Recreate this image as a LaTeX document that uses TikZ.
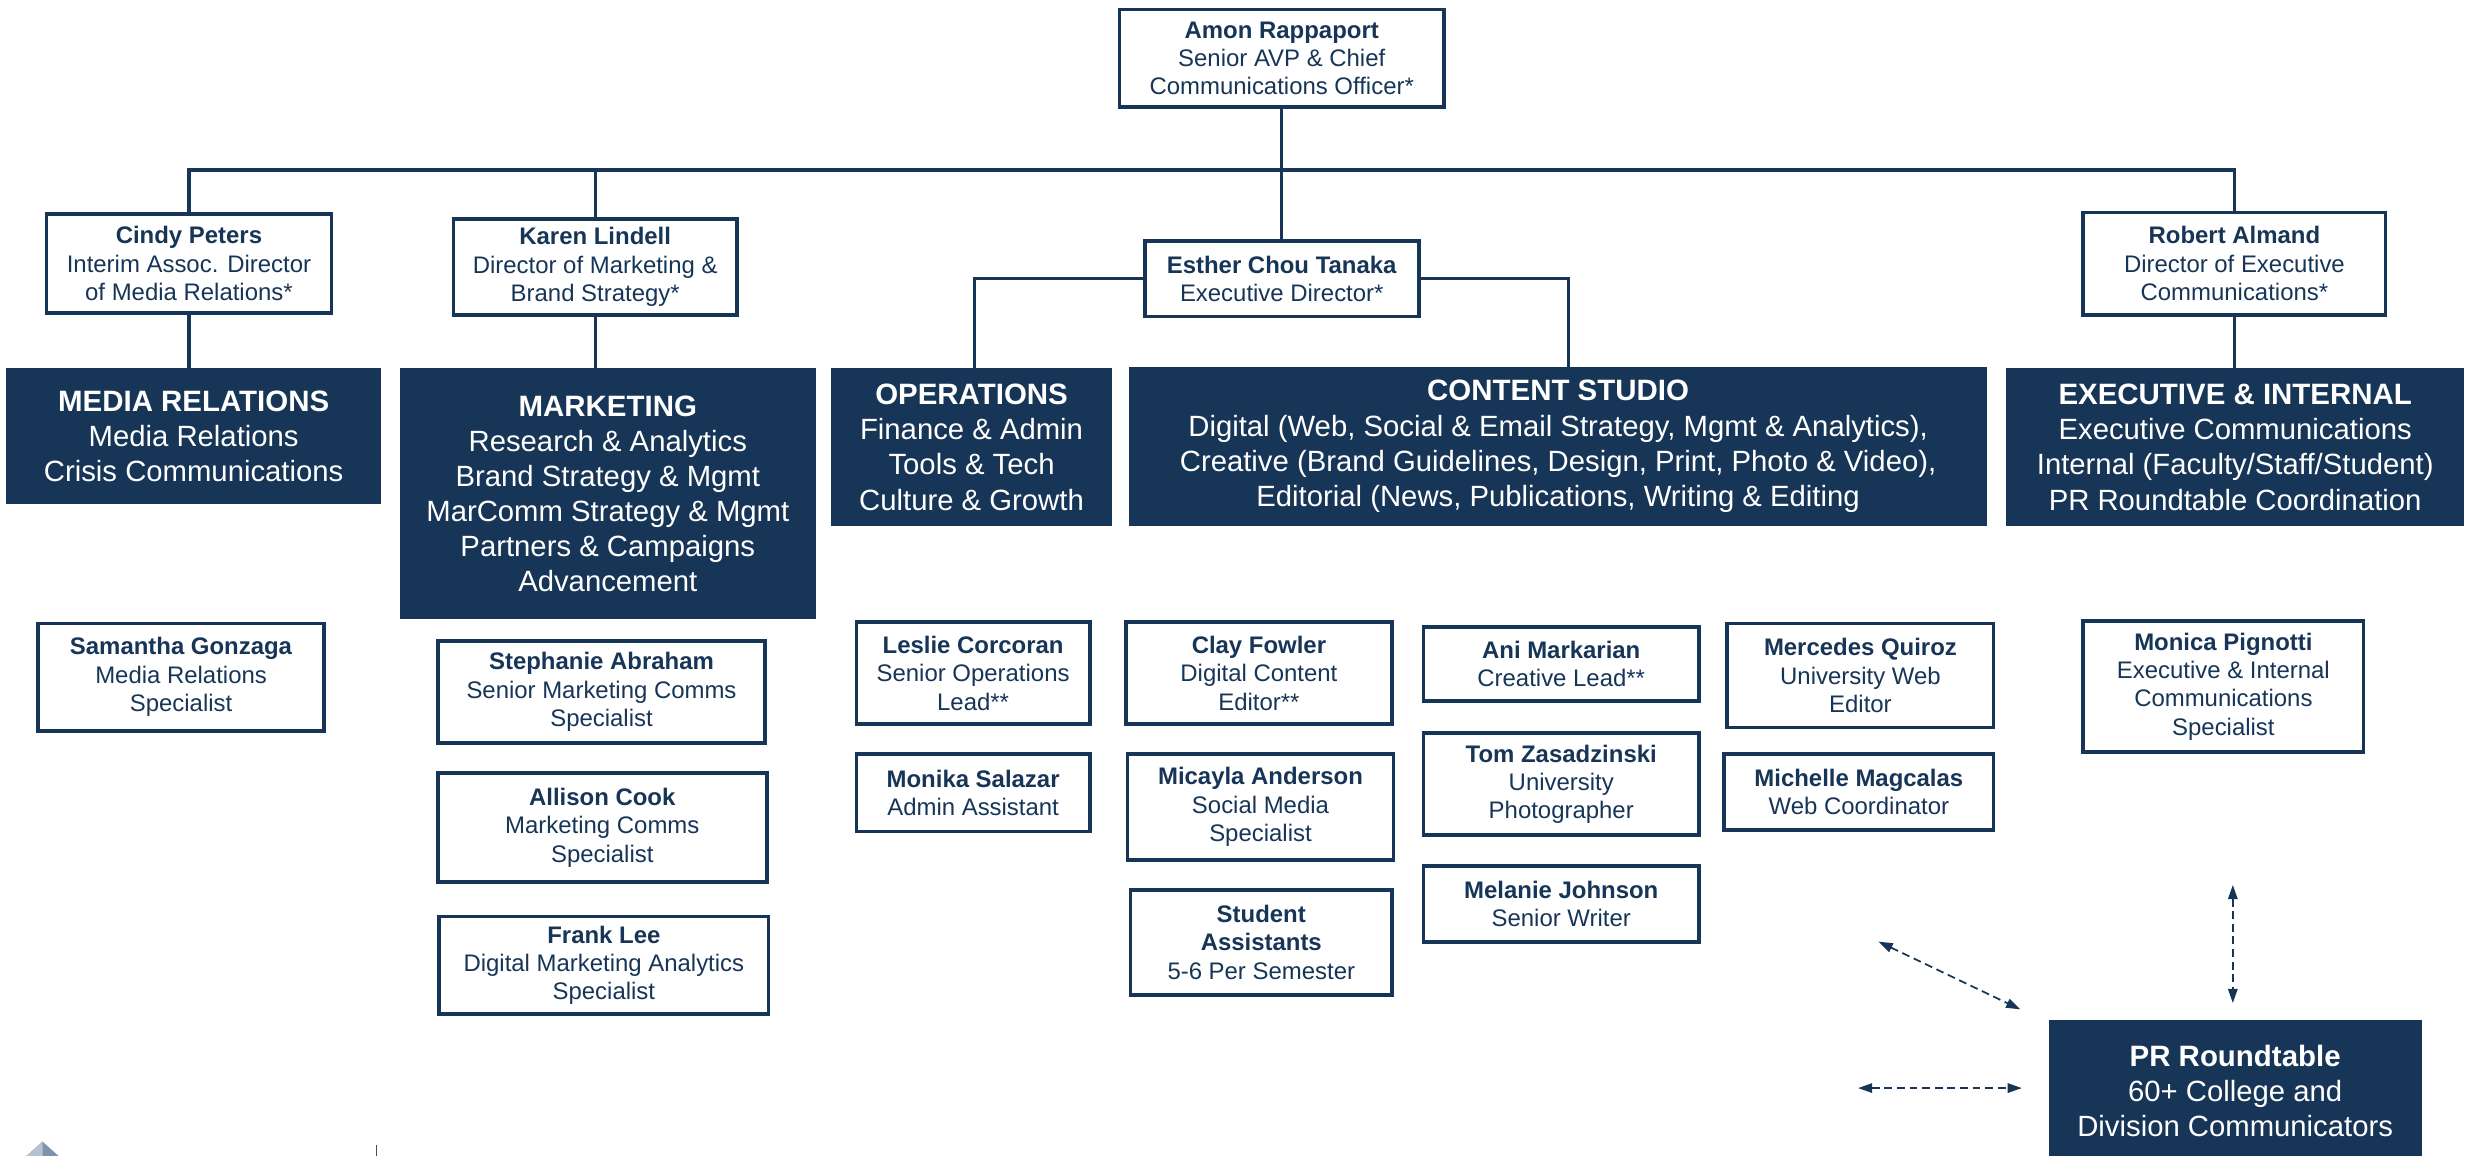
\documentclass[tikz,border=0pt]{standalone}
\usepackage{fontspec}
\setmainfont{Liberation Sans}
\usetikzlibrary{arrows.meta}
\definecolor{navy}{HTML}{173557}
\definecolor{logoblue}{HTML}{7E93AB}
\definecolor{logolight}{HTML}{B4C1D0}
\begin{document}
\begin{tikzpicture}[x=1pt,y=-1pt,
    person/.style={draw=navy, line width=2.4pt, fill=white, text=navy, align=center, inner sep=0pt, font=\fontsize{15.2}{18}\selectfont},
    unit/.style={fill=navy, text=white, align=center, inner sep=0pt, font=\fontsize{18.6}{22.3}\selectfont},
    link/.style={draw=navy, line width=2pt},
    rtarrow/.style={draw=navy, line width=1.1pt, dash pattern=on 5pt off 3pt, {Triangle[length=9pt,width=6pt]}-{Triangle[length=9pt,width=6pt]}}]
  \clip (0,0) rectangle (1568,734);
  \fill[white] (0,0) rectangle (1568,734);
  % leadership
  \node[person, minimum width=206, minimum height=62] (amon) at (814,37) {\textbf{Amon Rappaport}\\Senior AVP \& Chief\\Communications Officer*};
  \node[person, minimum width=181, minimum height=63] (cindy) at (120,167.5) {\textbf{Cindy Peters}\\Interim Assoc. Director\\of Media Relations*};
  \node[person, minimum width=180, minimum height=61] (karen) at (378,169.5) {\textbf{Karen Lindell}\\Director of Marketing \&\\Brand Strategy*};
  \node[person, minimum width=174, minimum height=48] (esther) at (814,177) {\textbf{Esther Chou Tanaka}\\Executive Director*};
  \node[person, minimum width=192, minimum height=65] (robert) at (1419,167.5) {\textbf{Robert Almand}\\Director of Executive\\Communications*};
  \coordinate (bus) at (814,108);
  % units
  \node[unit, minimum width=238, minimum height=86] (mediarel) at (123,277) {{\bfseries\fontsize{18.7}{22.3}\selectfont MEDIA RELATIONS}\\Media Relations\\Crisis Communications};
  \node[unit, minimum width=264, minimum height=159] (marketing) at (386,313.5) {{\bfseries\fontsize{18.7}{22.3}\selectfont MARKETING}\\Research \& Analytics\\Brand Strategy \& Mgmt\\MarComm Strategy \& Mgmt\\Partners \& Campaigns\\Advancement};
  \node[unit, minimum width=178, minimum height=100] (operations) at (617,284) {{\bfseries\fontsize{18.7}{22.3}\selectfont OPERATIONS}\\Finance \& Admin\\Tools \& Tech\\Culture \& Growth};
  \node[unit, minimum width=545, minimum height=101] (content) at (989.5,283.5) {{\bfseries\fontsize{18.7}{22.3}\selectfont CONTENT STUDIO}\\Digital (Web, Social \& Email Strategy, Mgmt \& Analytics),\\Creative (Brand Guidelines, Design, Print, Photo \& Video),\\Editorial (News, Publications, Writing \& Editing};
  \node[unit, minimum width=291, minimum height=100] (execint) at (1419.5,284) {{\bfseries\fontsize{18.7}{22.3}\selectfont EXECUTIVE \& INTERNAL}\\Executive Communications\\Internal (Faculty/Staff/Student)\\PR Roundtable Coordination};
  % staff
  \node[person, minimum width=182, minimum height=68] (samantha) at (115,430) {\textbf{Samantha Gonzaga}\\Media Relations\\Specialist};
  \node[person, minimum width=208, minimum height=65] (stephanie) at (382,439.5) {\textbf{Stephanie Abraham}\\Senior Marketing Comms\\Specialist};
  \node[person, minimum width=209, minimum height=69] (allison) at (382.5,525.5) {\textbf{Allison Cook}\\Marketing Comms\\Specialist};
  \node[person, minimum width=209, minimum height=62] (frank) at (383.5,613) {\textbf{Frank Lee}\\Digital Marketing Analytics\\Specialist};
  \node[person, minimum width=148, minimum height=65] (leslie) at (618,427.5) {\textbf{Leslie Corcoran}\\Senior Operations\\Lead**};
  \node[person, minimum width=148, minimum height=49] (monika) at (618,503.5) {\textbf{Monika Salazar}\\Admin Assistant};
  \node[person, minimum width=169, minimum height=65] (clay) at (799.5,427.5) {\textbf{Clay Fowler}\\Digital Content\\Editor**};
  \node[person, minimum width=169, minimum height=67] (micayla) at (800.5,512.5) {\textbf{Micayla Anderson}\\Social Media\\Specialist};
  \node[person, minimum width=166, minimum height=67] (students) at (801,598.5) {\textbf{Student}\\\textbf{Assistants}\\5-6 Per Semester};
  \node[person, minimum width=175, minimum height=47] (ani) at (991.5,421.5) {\textbf{Ani Markarian}\\Creative Lead**};
  \node[person, minimum width=175, minimum height=65] (tom) at (991.5,498) {\textbf{Tom Zasadzinski}\\University\\Photographer};
  \node[person, minimum width=175, minimum height=48] (melanie) at (991.5,574) {\textbf{Melanie Johnson}\\Senior Writer};
  \node[person, minimum width=169, minimum height=66] (mercedes) at (1181.5,429) {\textbf{Mercedes Quiroz}\\University Web\\Editor};
  \node[person, minimum width=171, minimum height=48] (michelle) at (1180.5,503) {\textbf{Michelle Magcalas}\\Web Coordinator};
  \node[person, minimum width=178, minimum height=83] (monica) at (1412,436) {\textbf{Monica Pignotti}\\Executive \& Internal\\Communications\\Specialist};
  \node[unit, minimum width=237, minimum height=90] (roundtable) at (1419.5,693) {{\bfseries\fontsize{18.7}{22.3}\selectfont PR Roundtable}\\60+ College and\\Division Communicators};
  % connectors
  \draw[link] (amon.south) -- (esther.north);
  \draw[link] (cindy.north) |- (bus) -| (robert.north);
  \draw[link] (karen.north) -- (karen.north |- bus);
  \draw[link] (cindy.south) -- (cindy.south |- mediarel.north);
  \draw[link] (karen.south) -- (karen.south |- marketing.north);
  \draw[link] (robert.south) -- (robert.south |- execint.north);
  \draw[link] (esther.west) -| ([xshift=2pt]operations.north);
  \draw[link] (esther.east) -| ([xshift=6.5pt]content.north);
  % roundtable arrows
  \coordinate (diagA) at (1193,598);
  \coordinate (diagB) at (1283,641);
  \coordinate (horA) at (1180,691);
  \coordinate (horB) at (1284,691);
  \coordinate (verA) at (1418,562);
  \coordinate (verB) at (1418,637);
  \draw[rtarrow] (diagA) -- (diagB);
  \draw[rtarrow] (horA) -- (horB);
  \draw[rtarrow] (verA) -- (verB);
  % logo fragment
  \fill[logoblue] (27,725) -- (46,742) -- (8,742) -- cycle;
  \fill[logolight] (27,725) -- (27,742) -- (8,742) -- cycle;
  \draw[black!70, line width=0.8pt] (239,727) -- (239,742);
\end{tikzpicture}
\end{document}
